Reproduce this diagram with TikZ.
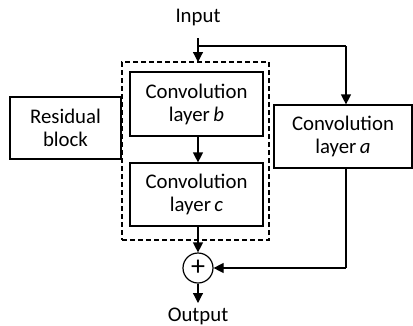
\documentclass[tikz,border=0pt]{standalone}
\usepackage{fontspec}
\setmainfont{Carlito}
\usetikzlibrary{arrows.meta}
\begin{document}
\begin{tikzpicture}[x=1pt,y=-1pt,
  box/.style={draw,line width=1.2pt,inner sep=0pt,align=center},
  lbl/.style={inner sep=0pt,font=\fontsize{20.8}{24}\selectfont},
  arr/.style={line width=1.2pt,-{Triangle[length=10pt,width=10pt]}},
  ln/.style={line width=1.2pt}]
\useasboundingbox (0,0) rectangle (413,325);
\node[lbl] (in) at (198,17) {Input};
\node[box,minimum width=147pt,minimum height=178pt,dashed,dash pattern=on 5pt off 3pt] (dash) at (195.5,151) {};
\node[box,minimum width=133pt,minimum height=64pt,lbl,draw] (b) at (196.5,104) {Convolution\\[-1pt]layer\,\textit{b}};
\node[box,minimum width=133pt,minimum height=63pt,lbl,draw] (c) at (196.5,194.5) {Convolution\\[-1pt]layer\,\textit{c}};
\node[box,minimum width=111pt,minimum height=62pt,lbl,draw] (r) at (65.5,128) {Residual\\[-1pt]block};
\node[box,minimum width=138pt,minimum height=63pt,lbl,draw] (a) at (343,136.5) {Convolution\\[-1pt]layer\,\textit{a}};
\node[draw,circle,line width=1.2pt,minimum size=30pt,inner sep=0pt] (p) at (198,268) {};
\node[inner sep=0pt,font=\fontsize{28}{30}\selectfont] at (p.center) {+};
\node[lbl] (out) at (198,316) {Output};
\coordinate (s) at (198,38);
\coordinate (j) at (198,46);
\coordinate (k) at (346,46);
\coordinate (m) at (346,268);
\draw[ln] (s) -- (j);
\draw[arr] (j) -- (198,62);
\draw[ln] (j) -- (k);
\draw[arr] (k) -- (a.north -| k);
\draw[arr] (b.south -| j) -- (c.north -| j);
\draw[arr] (c.south -| j) -- (p.north);
\draw[ln] (a.south -| m) -- (m);
\draw[arr] (m) -- (p.east);
\draw[arr] (p.south) -- (198,303);
\end{tikzpicture}
\end{document}
